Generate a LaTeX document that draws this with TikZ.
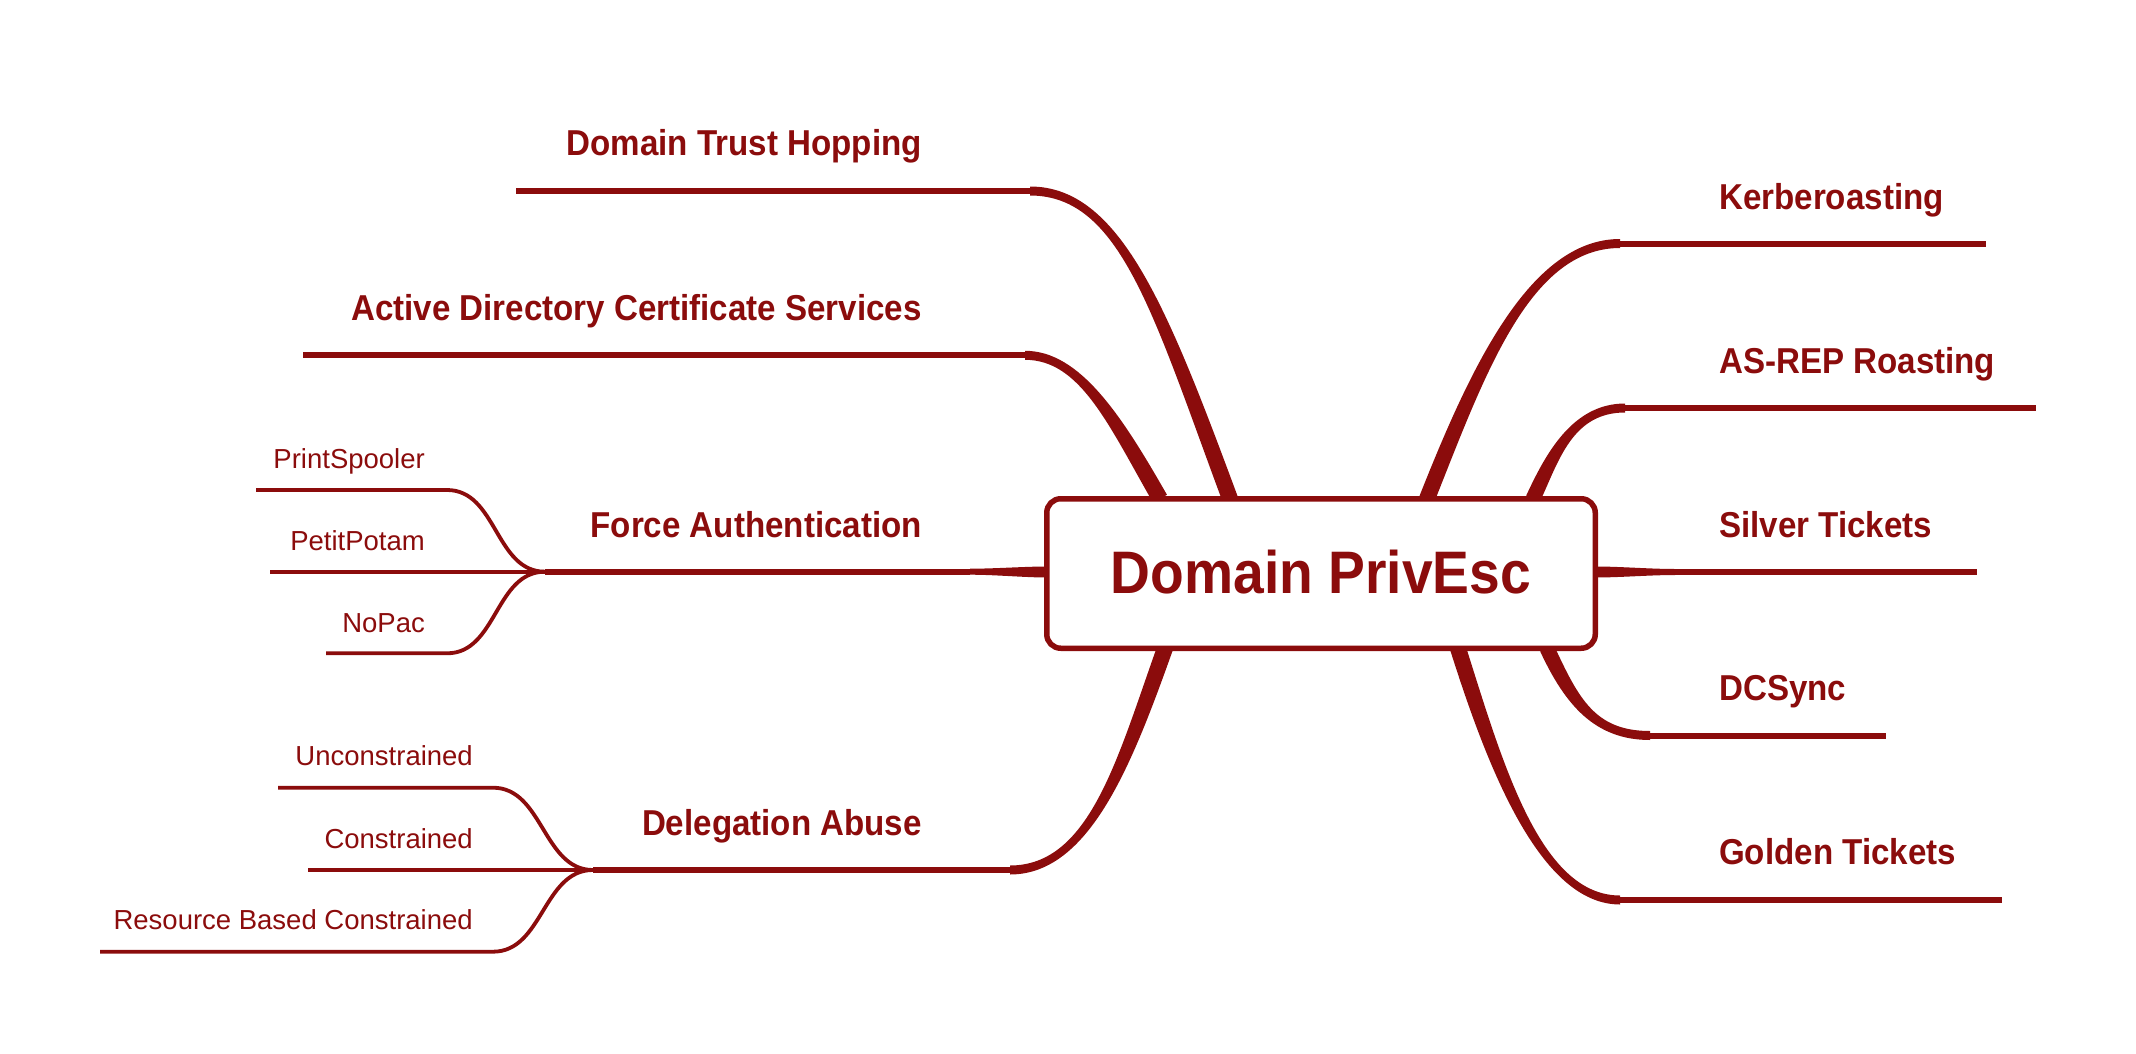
\documentclass[tikz,border=0pt]{standalone}
\usepackage{fontspec}
\setmainfont{Liberation Sans}
\newfontfamily\labfont{Liberation Sans}[FakeStretch=0.92]
\usetikzlibrary{calc,backgrounds}
\definecolor{brc}{RGB}{139,12,12}
% tapered branch: #1 P0, #2 C1, #3 C2, #4 P3, #5 half width at P0, #6 half width at P3
\newcommand\taperbranch[6]{%
  \fill[brc] ($(#1)!#5!90:(#2)$) .. controls ($(#2)!#5!-90:(#1)$) and ($(#3)!#6!90:(#4)$) .. ($(#4)!#6!-90:(#3)$)
    -- ($(#4)!#6!90:(#3)$) .. controls ($(#3)!#6!-90:(#4)$) and ($(#2)!#5!90:(#1)$) .. ($(#1)!#5!-90:(#2)$) -- cycle;}
\begin{document}
\begin{tikzpicture}[x=1pt,y=-1pt,
  mainlab/.style={font=\labfont\bfseries\fontsize{36}{40}\selectfont, text=brc, inner sep=0pt},
  sublab/.style={font=\fontsize{27.5}{32}\selectfont, text=brc, inner sep=0pt},
  hline/.style={draw=brc, line width=6pt},
  subline/.style={draw=brc, line width=3.8pt}]
\useasboundingbox (0,0) rectangle (2136,1054);

% central node
\node[draw=brc, fill=white, line width=5.5pt, rounded corners=14pt,
      minimum width=548.5pt, minimum height=149.5pt, inner sep=0pt, text=brc,
      font=\labfont\bfseries\fontsize{60}{66}\selectfont] (root) at (1321,573.5) {\raisebox{3pt}{Domain PrivEsc}};

% main labels
\node[mainlab, anchor=base east] (dth) at (922,156) {Domain Trust Hopping};
\node[mainlab, anchor=base east] (adcs) at (922,320) {Active Directory Certificate Services};
\node[mainlab, anchor=base east] (fa) at (922,537) {Force Authentication};
\node[mainlab, anchor=base east] (da) at (922,835) {Delegation Abuse};
\node[mainlab, anchor=base west] (kerb) at (1719,209) {Kerberoasting};
\node[mainlab, anchor=base west] (asrep) at (1719,373) {AS-REP Roasting};
\node[mainlab, anchor=base west] (silver) at (1719,537) {Silver Tickets};
\node[mainlab, anchor=base west] (dcs) at (1719,700) {DCSync};
\node[mainlab, anchor=base west] (gold) at (1719,864) {Golden Tickets};

% sub labels
\node[sublab, anchor=base east] (ps) at (425,468) {PrintSpooler};
\node[sublab, anchor=base east] (pp) at (425,550) {PetitPotam};
\node[sublab, anchor=base east] (np) at (425,632) {NoPac};
\node[sublab, anchor=base east] (uc) at (473,765) {Unconstrained};
\node[sublab, anchor=base east] (cs) at (473,848) {Constrained};
\node[sublab, anchor=base east] (rbc) at (473,929.5) {Resource Based Constrained};

% branch geometry
\coordinate (dth0) at (1230,498.75); \coordinate (dth1) at (1160,310);
\coordinate (dth2) at (1120,191);    \coordinate (dth3) at (1030,191);
\coordinate (dthE) at (516,191);
\coordinate (adcs0) at (1160,498.75); \coordinate (adcs1) at (1115,420);
\coordinate (adcs2) at (1080,355.3);  \coordinate (adcs3) at (1025,355.3);
\coordinate (adcsE) at (303,355.3);
\coordinate (fa0) at (1046.75,572); \coordinate (fa1) at (1025,572);
\coordinate (fa2) at (995,571.7);   \coordinate (fa3) at (970,571.7);
\coordinate (faJ) at (545,571.7);
\coordinate (da0) at (1165,648.25); \coordinate (da1) at (1125,760);
\coordinate (da2) at (1090,870);    \coordinate (da3) at (1010,870);
\coordinate (daJ) at (593,870);
\coordinate (kerb0) at (1427,498.75); \coordinate (kerb1) at (1478,370);
\coordinate (kerb2) at (1530,243.5);  \coordinate (kerb3) at (1620,243.5);
\coordinate (kerbE) at (1986,243.5);
\coordinate (asrep0) at (1533,498.75); \coordinate (asrep1) at (1552,458);
\coordinate (asrep2) at (1572,408);    \coordinate (asrep3) at (1625,408);
\coordinate (asrepE) at (2036,408);
\coordinate (silver0) at (1595.25,572); \coordinate (silver1) at (1620,572);
\coordinate (silver2) at (1650,572);    \coordinate (silver3) at (1675,572);
\coordinate (silverE) at (1977,572);
\coordinate (dcs0) at (1547,648.25); \coordinate (dcs1) at (1572,702);
\coordinate (dcs2) at (1595,735.5);  \coordinate (dcs3) at (1650,735.5);
\coordinate (dcsE) at (1886,735.5);
\coordinate (gold0) at (1458,648.25); \coordinate (gold1) at (1495,765);
\coordinate (gold2) at (1540,900);    \coordinate (gold3) at (1620,900);
\coordinate (goldE) at (2002,900);

% sub branch end points
\coordinate (psL) at (256,490);   \coordinate (psB) at (447,490);
\coordinate (ppL) at (270,571.7);
\coordinate (npL) at (326,653.3); \coordinate (npB) at (447,653.3);
\coordinate (ucL) at (278,787.7); \coordinate (ucB) at (493,787.7);
\coordinate (csL) at (308,870);
\coordinate (rbcL) at (100,951.7); \coordinate (rbcB) at (493,951.7);

\begin{scope}[on background layer]
  \taperbranch{dth0}{dth1}{dth2}{dth3}{8pt}{4.5pt}
  \draw[hline] (dth3) -- (dthE);
  \taperbranch{adcs0}{adcs1}{adcs2}{adcs3}{8pt}{4.5pt}
  \draw[hline] (adcs3) -- (adcsE);
  \taperbranch{fa0}{fa1}{fa2}{fa3}{5.5pt}{3pt}
  \draw[hline] (fa3) -- (faJ);
  \taperbranch{da0}{da1}{da2}{da3}{8pt}{4.5pt}
  \draw[hline] (da3) -- (daJ);
  \taperbranch{kerb0}{kerb1}{kerb2}{kerb3}{8pt}{4.5pt}
  \draw[hline] (kerb3) -- (kerbE);
  \taperbranch{asrep0}{asrep1}{asrep2}{asrep3}{7.5pt}{4.5pt}
  \draw[hline] (asrep3) -- (asrepE);
  \taperbranch{silver0}{silver1}{silver2}{silver3}{5.5pt}{3pt}
  \draw[hline] (silver3) -- (silverE);
  \taperbranch{dcs0}{dcs1}{dcs2}{dcs3}{7.5pt}{4.5pt}
  \draw[hline] (dcs3) -- (dcsE);
  \taperbranch{gold0}{gold1}{gold2}{gold3}{8pt}{4.5pt}
  \draw[hline] (gold3) -- (goldE);

  % sub branches
  \draw[subline] (psL) -- (psB) .. controls +(50,0) and +(-50,0) .. (faJ);
  \draw[subline] (ppL) -- (faJ);
  \draw[subline] (npL) -- (npB) .. controls +(50,0) and +(-50,0) .. (faJ);
  \draw[subline] (ucL) -- (ucB) .. controls +(50,0) and +(-50,0) .. (daJ);
  \draw[subline] (csL) -- (daJ);
  \draw[subline] (rbcL) -- (rbcB) .. controls +(50,0) and +(-50,0) .. (daJ);
\end{scope}
\end{tikzpicture}
\end{document}
